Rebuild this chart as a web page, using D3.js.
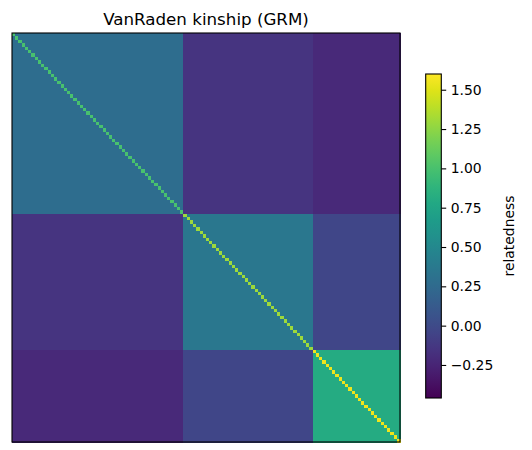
<!DOCTYPE html>
<html>
<head>
<meta charset="utf-8">
<script src="https://cdn.jsdelivr.net/npm/d3@7"></script>
<style>
  body { margin: 0; background: #fff; }
  svg { display: block; font-family: "DejaVu Sans", sans-serif; }
</style>
</head>
<body>
<svg id="chart" width="532" height="450"></svg>
<script>
"use strict";

// individuals per population, in plotting order
const groupSizes = [53, 40, 27];
// mean off-diagonal relatedness between / within populations
const blockMeans = [
    [0.27, -0.15, -0.22],
    [-0.15, 0.36, -0.03],
    [-0.22, -0.03, 0.80]
];
// diagonal (self relatedness, 1 + F) per population
const selfKinship = [1.00, 1.30, 1.55];
const colorDomain = [-0.46, 1.60];
const cbTicks = [-0.25, 0, 0.25, 0.5, 0.75, 1.0, 1.25, 1.5];

const svg = d3.select("#chart");

const plotLeft = 12, plotTop = 33, plotWidth = 388, plotHeight = 409;

// which population each individual belongs to
let groupOf = [];
groupSizes.forEach((n, g) => { for (let k = 0; k < n; k++) groupOf.push(g); });
const ids = d3.range(groupOf.length);

let cells = [];
for (let i of ids) {
    for (let j of ids) {
        const v = i === j ? selfKinship[groupOf[i]] : blockMeans[groupOf[i]][groupOf[j]];
        cells.push({ row: i, col: j, value: v });
    }
}

const xScale = d3.scaleBand().domain(ids).range([plotLeft, plotLeft + plotWidth]);
const yScale = d3.scaleBand().domain(ids).range([plotTop, plotTop + plotHeight]);
const color = d3.scaleSequential(d3.interpolateViridis).domain(colorDomain);

svg.append("g")
    .attr("shape-rendering", "crispEdges")
    .selectAll("rect")
    .data(cells)
    .enter()
    .append("rect")
    .attr("x", (d) => xScale(d.col))
    .attr("y", (d) => yScale(d.row))
    .attr("width", xScale.bandwidth() + 0.5)
    .attr("height", yScale.bandwidth() + 0.5)
    .attr("fill", (d) => color(d.value));

svg.append("rect")
    .attr("x", plotLeft)
    .attr("y", plotTop)
    .attr("width", plotWidth)
    .attr("height", plotHeight)
    .attr("fill", "none")
    .attr("stroke", "#000")
    .attr("stroke-width", 1.1);

svg.append("text")
    .attr("x", plotLeft + plotWidth / 2)
    .attr("y", 25)
    .attr("text-anchor", "middle")
    .style("font-size", "16.7px")
    .text("VanRaden kinship (GRM)");

// colorbar
const cbX = 425.7, cbW = 15.6, cbTop = 74, cbBottom = 398;
const cbScale = d3.scaleLinear().domain(colorDomain).range([cbBottom, cbTop]);

const grad = svg.append("defs")
    .append("linearGradient")
    .attr("id", "viridis")
    .attr("x1", "0%").attr("y1", "100%")
    .attr("x2", "0%").attr("y2", "0%");

grad.selectAll("stop")
    .data(d3.range(0, 1.0001, 0.05))
    .enter()
    .append("stop")
    .attr("offset", (t) => `${t * 100}%`)
    .attr("stop-color", (t) => d3.interpolateViridis(t));

svg.append("rect")
    .attr("x", cbX)
    .attr("y", cbTop)
    .attr("width", cbW)
    .attr("height", cbBottom - cbTop)
    .attr("fill", "url(#viridis)")
    .attr("stroke", "#000")
    .attr("stroke-width", 1.1);

const cbAxis = svg.append("g")
    .attr("transform", `translate(${cbX + cbW}, 0)`)
    .call(d3.axisRight(cbScale)
        .tickValues(cbTicks)
        .tickFormat(d3.format(".2f"))
        .tickSize(4.9)
        .tickPadding(4.5));

cbAxis.select(".domain").remove();
cbAxis.selectAll("line").attr("stroke", "#000").attr("stroke-width", 1.1);
cbAxis.selectAll("text")
    .attr("fill", "#000")
    .style("font-family", "DejaVu Sans, sans-serif")
    .style("font-size", "13.9px");

svg.append("text")
    .attr("transform", `translate(514, ${(cbTop + cbBottom) / 2}) rotate(-90)`)
    .attr("text-anchor", "middle")
    .style("font-size", "13.9px")
    .text("relatedness");
</script>
</body>
</html>
